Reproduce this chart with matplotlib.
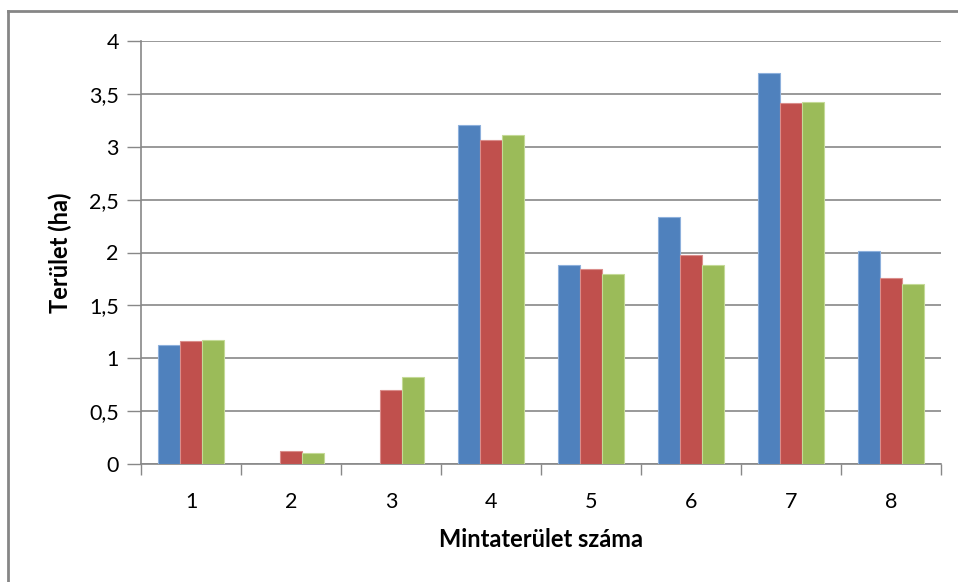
import numpy as np
import matplotlib.pyplot as plt
from matplotlib.lines import Line2D
from matplotlib.ticker import FuncFormatter

plt.rcParams['font.family'] = ['Lato', 'DejaVu Sans']

# adatok
kategoriak = ['1', '2', '3', '4', '5', '6', '7', '8']
sor_kek = [1.13, 0, 0, 3.21, 1.88, 2.34, 3.70, 2.01]
sor_piros = [1.16, 0.12, 0.70, 3.06, 1.84, 1.98, 3.41, 1.76]
sor_zold = [1.17, 0.10, 0.82, 3.11, 1.80, 1.88, 3.42, 1.70]

szinek = ['#4F81BD', '#C0504D', '#9BBB59']
szel_szinek = ['#8DB0DC', '#DA8D8B', '#C4DA97']

fig = plt.figure(figsize=(9.58, 5.82), dpi=100)
ax = fig.add_axes([141 / 958, 118 / 582, 800 / 958, 423 / 582])

x = np.arange(len(kategoriak))
w = 0.22
for i, (adat, szin, szel) in enumerate(zip([sor_kek, sor_piros, sor_zold], szinek, szel_szinek)):
    ax.bar(x + (i - 1) * w, adat, width=w, color=szin, edgecolor=szel,
           linewidth=0.8, zorder=3)

ax.set_xlim(-0.5, len(kategoriak) - 0.5)
ax.set_ylim(0, 4)
ax.set_yticks(np.arange(0, 4.01, 0.5))
ax.yaxis.set_major_formatter(FuncFormatter(lambda v, p: f'{v:g}'.replace('.', ',')))
ax.yaxis.grid(True, color='#888888', linewidth=1.2, zorder=0)

# x tengely osztasai a kategoriak hataran
ax.set_xticks(np.arange(-0.5, len(kategoriak) + 0.5, 1))
ax.set_xticklabels([])
ax.set_xticks(x, minor=True)
ax.set_xticklabels(kategoriak, minor=True)
ax.tick_params(axis='x', which='major', length=8, width=1, color='#888888')
ax.tick_params(axis='x', which='minor', length=0, pad=20, labelsize=15.5)
ax.tick_params(axis='y', length=10, width=1, color='#888888', pad=6, labelsize=15.5)

for s in ['top', 'right']:
    ax.spines[s].set_visible(False)
for s in ['left', 'bottom']:
    ax.spines[s].set_color('#888888')
    ax.spines[s].set_linewidth(1.2)

ax.set_xlabel('Mintaterület száma', fontsize=17, fontweight='bold', labelpad=12)
ax.set_ylabel('Terület (ha)', fontsize=17, fontweight='bold', labelpad=12)

# keret
fig.add_artist(Line2D([8 / 958, 8 / 958], [0, 1 - 11 / 582], color='#868686', linewidth=2,
                      transform=fig.transFigure))
fig.add_artist(Line2D([8 / 958, 1], [1 - 11 / 582, 1 - 11 / 582], color='#868686', linewidth=2,
                      transform=fig.transFigure))

fig.savefig('out.png', dpi=100)
